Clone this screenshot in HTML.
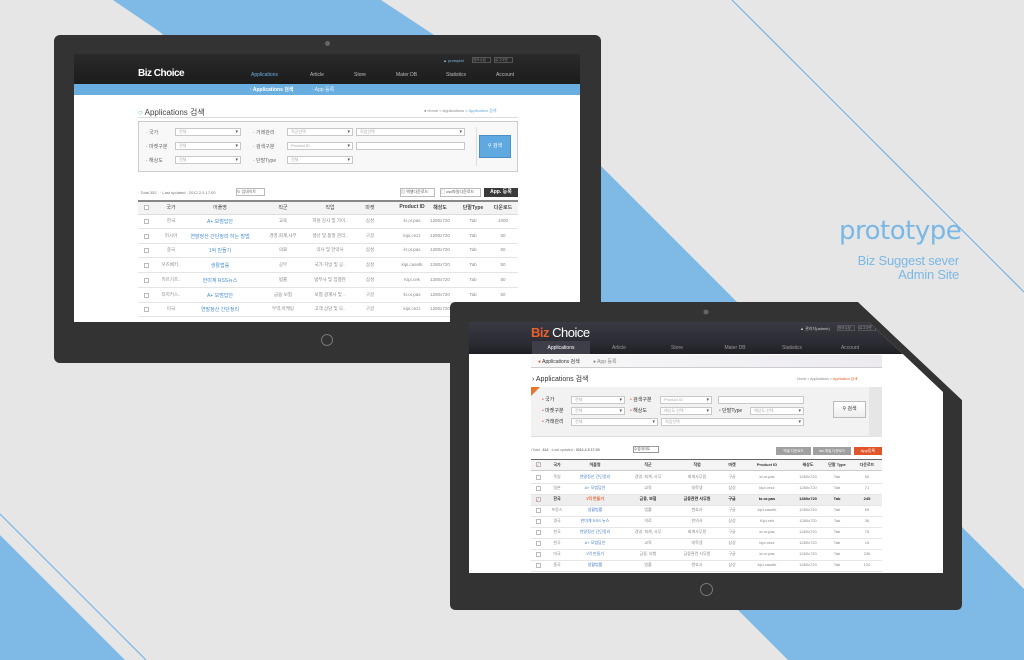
<!DOCTYPE html>
<html><head><meta charset="utf-8">
<style>
*{margin:0;padding:0;box-sizing:border-box}
body{width:1024px;height:660px;overflow:hidden;background:#e6e6e6;position:relative;font-family:"Liberation Sans","Noto Sans CJK KR",sans-serif}
.a{position:absolute;white-space:nowrap}
.t{font-size:5px;color:#666}
.sel{position:absolute;height:8px;border:1px solid #c8c8c8;background:#fff;font-size:4px;color:#aaa;padding-left:3px;line-height:6px}
.sel:after{content:"▾";position:absolute;right:2px;top:0;color:#555;font-size:5px}
.cell{position:absolute;transform:translateX(-50%);white-space:nowrap}
</style></head><body>
<svg class="a" style="left:0;top:0" width="1024" height="660">
<polygon points="113,0 381,0 540,105 1024,589 1024,660 788,660 160,32" fill="#7fb9e5"/>
<line x1="732" y1="0" x2="1024" y2="292" stroke="#6aaee6" stroke-width="1"/>
<polygon points="0,535 0,660 125,660" fill="#7fb9e5"/>
<line x1="0" y1="514" x2="146" y2="660" stroke="#6aaee6" stroke-width="1"/>
</svg>

<div class="a" style="left:839px;top:216px;font-size:26px;color:#7ab8e5;font-family:'DejaVu Sans',sans-serif;letter-spacing:-0.5px">prototype</div>
<div class="a" style="left:800px;top:254px;width:159px;font-size:13px;color:#7ab8e5;text-align:right;line-height:14px;letter-spacing:-0.2px">Biz Suggest sever<br>Admin Site</div>

<!-- left device -->
<div class="a" style="left:54px;top:35px;width:547px;height:328px;background:#333;border-radius:6px"></div>
<div class="a" style="left:325px;top:41px;width:5px;height:5px;border-radius:50%;background:#666"></div>
<div class="a" style="left:321px;top:334px;width:12px;height:12px;border-radius:50%;border:1.5px solid #777"></div>
<div class="a" style="left:74px;top:54px;width:506px;height:268px;background:#fff;overflow:hidden">
 <div class="a" style="left:0;top:0;width:506px;height:30px;background:linear-gradient(#2a2a2a,#1c1c1c)"></div>
 <div class="a t" style="left:369px;top:4px;color:#7ab8e5;font-size:4px">▲ promptal</div>
 <div class="a" style="left:398px;top:3px;width:19px;height:6px;border:1px solid #555;font-size:3.5px;color:#888"> 정보수정</div>
 <div class="a" style="left:420px;top:3px;width:19px;height:6px;border:1px solid #555;font-size:3.5px;color:#888"> 로그아웃</div>
 <div class="a" style="left:64px;top:14px;font-size:10px;font-weight:bold;color:#fff;letter-spacing:-0.5px">Biz Choice</div>
 <div class="a t" style="left:177px;top:18px;color:#6ab0e6">Applications</div>
 <div class="a t" style="left:236px;top:18px;color:#bbb">Article</div>
 <div class="a t" style="left:280px;top:18px;color:#bbb">Store</div>
 <div class="a t" style="left:322px;top:18px;color:#bbb">Mater DB</div>
 <div class="a t" style="left:372px;top:18px;color:#bbb">Statistics</div>
 <div class="a t" style="left:422px;top:18px;color:#bbb">Account</div>
 <div class="a" style="left:0;top:30px;width:506px;height:11px;background:#6aaee0"></div>
 <div class="a t" style="left:176px;top:32px;color:#fff;font-weight:bold">· Applications 검색</div>
 <div class="a t" style="left:238px;top:32px;color:#e6f2fb">· App 등록</div>
 <div class="a" style="left:64px;top:53px;font-size:8px;color:#444"><span style="color:#5fa9e0">○</span> Applications 검색</div>
 <div class="a" style="left:350px;top:54px;font-size:4px;color:#888">● Home &gt; Applications &gt; <span style="color:#5fa9e0">Application 검색</span></div>
 <div class="a" style="left:64px;top:63px;width:380px;height:1px;background:#ddd"></div>
 <div class="a" style="left:64px;top:67px;width:380px;height:51px;border:1px solid #ccc;background:#f8f8f8"></div>
 <div class="a t" style="left:72px;top:75px">· 국가</div>
 <div class="sel" style="left:101px;top:74px;width:66px">전체</div>
 <div class="a t" style="left:179px;top:75px">· 거래관리</div>
 <div class="sel" style="left:213px;top:74px;width:66px">직군선택</div>
 <div class="sel" style="left:282px;top:74px;width:109px">직업선택</div>
 <div class="a t" style="left:72px;top:89px">· 마켓구분</div>
 <div class="sel" style="left:101px;top:88px;width:66px">전체</div>
 <div class="a t" style="left:179px;top:89px">· 검색구분</div>
 <div class="sel" style="left:213px;top:88px;width:66px">Product ID</div>
 <div class="a" style="left:282px;top:88px;width:109px;height:8px;border:1px solid #c8c8c8;background:#fff"></div>
 <div class="a t" style="left:72px;top:103px">· 해상도</div>
 <div class="sel" style="left:101px;top:102px;width:66px">전체</div>
 <div class="a t" style="left:179px;top:103px">· 단말Type</div>
 <div class="sel" style="left:213px;top:102px;width:66px">전체</div>
 <div class="a" style="left:402px;top:73px;width:1px;height:39px;background:#ddd"></div>
 <div class="a" style="left:405px;top:81px;width:32px;height:23px;background:#5fa9e0;border:1px solid #4a90c8;color:#fff;font-size:5px;text-align:center;line-height:21px">⚲ 검색</div>
 <div class="a" style="left:64px;top:136px;font-size:4px;color:#777">· Total 352 &nbsp; · Last updated : 2012.2.5 17:00</div>
 <div class="a" style="left:162px;top:134px;width:29px;height:8px;border:1px solid #bbb;font-size:4px;color:#666;background:#fff"> ↻ 업데이트</div>
 <div class="a" style="left:326px;top:134px;width:35px;height:9px;border:1px solid #bbb;background:#fff;font-size:4px;color:#555"> ▤ 엑셀다운로드</div>
 <div class="a" style="left:366px;top:134px;width:41px;height:9px;border:1px solid #bbb;background:#fff;font-size:4px;color:#555"> ▢ csv파일다운로드</div>
 <div class="a" style="left:410px;top:134px;width:34px;height:9px;background:#3a3a3a;color:#fff;font-size:5px;font-weight:bold;text-align:center;line-height:9px">App. 등록</div>
 <div class="a" style="left:64px;top:146px;width:380px;height:15px;border-top:2px solid #888;background:#f3f3f3;border-bottom:1px solid #ddd"></div>
 <div id="ltab"></div>
</div>

<!-- right device -->
<svg class="a" style="left:0;top:0" width="1024" height="660">
<path d="M456,302 H858 L962,400 V604 Q962,610 956,610 H456 Q450,610 450,604 V308 Q450,302 456,302 Z" fill="#333"/>
<circle cx="706" cy="312" r="2.5" fill="#666"/>
</svg>
<div class="a" style="left:700px;top:583px;width:13px;height:13px;border-radius:50%;border:1.5px solid #777"></div>
<div class="a" style="left:469px;top:322px;width:474px;height:251px;background:#fff;overflow:hidden;clip-path:polygon(0 0,400px 0,474px 70px,474px 251px,0 251px)">
 <div class="a" style="left:0;top:0;width:474px;height:19px;background:linear-gradient(#3a3a44,#2c2c34)"></div>
 <div class="a" style="left:0;top:19px;width:474px;height:13px;background:linear-gradient(#2e2e36,#1e1e24)"></div>
 <div class="a" style="left:62px;top:3px;font-size:13px;color:#fff;letter-spacing:-0.5px"><b style="color:#e8602c">Biz</b> Choice</div>
 <div class="a" style="left:331px;top:4px;font-size:4px;color:#ccc">▲ 관리자(admin)</div>
 <div class="a" style="left:368px;top:3px;width:18px;height:6px;border:1px solid #555;font-size:3.5px;color:#999"> 정보수정</div>
 <div class="a" style="left:389px;top:3px;width:18px;height:6px;border:1px solid #555;font-size:3.5px;color:#999"> 로그아웃</div>
 <div class="a" style="left:63px;top:19px;width:58px;height:13px;background:#3e3e48"></div>
 <div class="cell t" style="left:92px;top:23px;color:#fff">Applications</div>
 <div class="cell t" style="left:150px;top:23px;color:#999">Article</div>
 <div class="cell t" style="left:208px;top:23px;color:#999">Store</div>
 <div class="cell t" style="left:266px;top:23px;color:#999">Mater DB</div>
 <div class="cell t" style="left:323px;top:23px;color:#999">Statistics</div>
 <div class="cell t" style="left:381px;top:23px;color:#999">Account</div>
 <div class="a" style="left:62px;top:33px;width:351px;height:13px;background:linear-gradient(90deg,#f8f8f8,#eceaf0);border-bottom:1px solid #ccc"></div>
 <div class="a t" style="left:69px;top:36px;color:#333"><span style="color:#e8602c">●</span> Applications 검색</div>
 <div class="a t" style="left:124px;top:36px;color:#888"><span>●</span> App 등록</div>
 <div class="a" style="left:63px;top:52px;font-size:7px;color:#333">› Applications 검색</div>
 <div class="a" style="left:328px;top:55px;font-size:3.5px;color:#888">Home &gt; Applications &gt; <span style="color:#e8602c">Application 검색</span></div>
 <div class="a" style="left:62px;top:65px;width:351px;height:50px;background:#f2f2f2;border-bottom:1px solid #ddd"></div>
 <div class="a" style="left:62px;top:65px;width:0;height:0;border-top:9px solid #e8762c;border-right:9px solid transparent"></div>
 <div class="a" style="left:400px;top:65px;width:13px;height:50px;background:#e6e6e6"></div>
 <div class="a t" style="left:73px;top:74px;color:#333"><span style="color:#e8602c">•</span> 국가</div>
 <div class="sel" style="left:102px;top:74px;width:54px">전체</div>
 <div class="a t" style="left:161px;top:74px;color:#333"><span style="color:#e8602c">•</span> 검색구분</div>
 <div class="sel" style="left:191px;top:74px;width:52px">Product ID</div>
 <div class="a" style="left:249px;top:74px;width:86px;height:8px;border:1px solid #c8c8c8;background:#fff"></div>
 <div class="a t" style="left:73px;top:85px;color:#333"><span style="color:#e8602c">•</span> 마켓구분</div>
 <div class="sel" style="left:102px;top:85px;width:54px">전체</div>
 <div class="a t" style="left:161px;top:85px;color:#333"><span style="color:#e8602c">•</span> 해상도</div>
 <div class="sel" style="left:191px;top:85px;width:52px">해상도 선택</div>
 <div class="a t" style="left:250px;top:85px;color:#333"><span style="color:#e8602c">•</span> 단말Type</div>
 <div class="sel" style="left:281px;top:85px;width:54px">해상도 선택</div>
 <div class="a t" style="left:73px;top:96px;color:#333"><span style="color:#e8602c">•</span> 거래관리</div>
 <div class="sel" style="left:102px;top:96px;width:87px">전체</div>
 <div class="sel" style="left:192px;top:96px;width:143px">직업선택</div>
 <div class="a" style="left:364px;top:79px;width:33px;height:17px;background:linear-gradient(#fff,#eee);border:1px solid #bbb;font-size:5px;color:#333;text-align:center;line-height:15px">⚲ 검색</div>
 <div class="a" style="left:62px;top:126px;font-size:3.5px;color:#777"><span style="color:#e8602c">•</span>Total : <b>314</b> &nbsp; <span style="color:#e8602c">•</span>Last updated : <b>2012-2-5 17:00</b></div>
 <div class="a" style="left:164px;top:124px;width:26px;height:7px;border:1px solid #999;font-size:3.5px;color:#555;background:#fff"> 수업데이트</div>
 <div class="a" style="left:307px;top:125px;width:35px;height:8px;background:#a0a0a0;font-size:3.5px;color:#fff;text-align:center;line-height:8px">엑셀 다운로드</div>
 <div class="a" style="left:344px;top:125px;width:38px;height:8px;background:#a0a0a0;font-size:3.5px;color:#fff;text-align:center;line-height:8px">csv 파일 다운로드</div>
 <div class="a" style="left:385px;top:125px;width:28px;height:8px;background:#e0562a;font-size:4px;color:#fff;text-align:center;line-height:8px">App등록</div>
 <div class="a" style="left:62px;top:137px;width:351px;height:12px;border-top:1px solid #666;background:#f4f4f4;border-bottom:1px solid #ccc"></div>
 <div class="a" style="left:62px;top:173px;width:351px;height:11px;background:#eeeeee"></div>
 <div id="rtab"></div>
</div>
<svg class="a" style="left:0;top:0" width="1024" height="660">
<polygon points="858,302 962,302 962,400" fill="#e6e6e6"/>
</svg>

<script>
var lHead=["","국가","어플명","직군","직업","마켓","Product ID","해상도","단말Type","다운로드"];
var lCols=[72,97,146,209,256,296,338,366,399,429];
var lCountry=["한국","러시아","중국","우즈베키..","키르기즈..","타지키스..","미국"];
var lApp=["A+ 모범답안","연말정산 간단정리 하는 방법","1억 만들기","생활법률","한미계 RSS뉴스","A+ 모범답안","연말정산 간단정리"];
var lGroup=["교육","경영,회계,사무","의료","공무","법률","금융·보험","무역,마케팅"];
var lJob=["학원 강사 및 가이..","생산 및 품질 관리..","약사 및 한약사","국가·지방 및 공..","법무사 및 집행관","보험 광계사 및 ..","고객 상담 및 모.."];
var lMarket=["삼성","구글","삼성","삼성","삼성","구글","구글"];
var lPid=["kr.or.pas","kipi.cezz","kr.or.pas","kipi.casetk","Kipi.cek","kr.or.pas","kipi.cezz"];
var lDown=["1000","50","50","50","50","50","50"];
var rHead=["","국가","어플명","직군","직업","마켓","Product ID","해상도","단말 Type","다운로드"];
var rCols=[69,88,126,179,228,263,298,339,368,398];
var rCountry=["독일","일본","한국","프랑스","영국","한국","한국","미국","중국"];
var rApp=["연말정산 간단정리","A+ 모범답안","1억 만들기","생활법률","한미계 RSS 뉴스","연말정산 간단정리","A+ 모범답안","1억 만들기","생활법률"];
var rGroup=["경영, 회계, 사무","교육","금융, 보험","법률","의료","경영, 회계, 사무","교육","금융, 보험","법률"];
var rJob=["회계사무원","대학생","금융관련 사무원","변호사","한의사","회계사무원","대학생","금융관련 사무원","변호사"];
var rMarket=["구글","삼성","구글","구글","삼성","구글","삼성","구글","삼성"];
var rPid=["kr.or.pas","kipi.cezz","kr.or.pas","kipi.casetk","Kipi.cek","kr.or.pas","kipi.cezz","kr.or.pas","kipi.casetk"];
var rDown=["50","71","245","69","36","75","15","236","120"];

function put(parent,x,y,txt,fs,color,bold){
  var d=document.createElement('div');
  d.className='cell';
  d.style.left=x+'px';d.style.top=y+'px';d.style.fontSize=fs+'px';d.style.color=color;
  if(bold)d.style.fontWeight='bold';
  d.textContent=txt;
  parent.appendChild(d);
  return d;
}
function box(parent,x,y,s,checked){
  var b=document.createElement('div');
  b.className='a';
  b.style.cssText='left:'+(x-s/2)+'px;top:'+y+'px;width:'+s+'px;height:'+s+'px;border:1px solid #bbb;background:#fff;font-size:'+(s-1)+'px;line-height:'+(s-2)+'px;color:#e8602c;text-align:center';
  if(checked)b.textContent='✓';
  
  
  parent.appendChild(b);
}
var L=document.getElementById('ltab');
box(L,lCols[0],151,5,false);
for(var i=1;i<lHead.length;i++){
  var h=put(L,lCols[i],150,lHead[i],5,'#444',i>=6);
  
  
}
for(var r=0;r<lCountry.length;r++){
  var y=164+r*14.7;
  var line=document.createElement('div');
  line.className='a';
  line.style.cssText='left:64px;top:'+(y+10)+'px;width:380px;height:1px;background:#e4e4e4';
  
  
  L.appendChild(line);
  box(L,lCols[0],y+1,5,false);
  var vals=[lCountry[r],lApp[r],lGroup[r],lJob[r],lMarket[r],lPid[r],"1280x720","Tab",lDown[r]];
  for(var c=0;c<vals.length;c++){
    var e=put(L,lCols[c+1],y,vals[c],c==1?5:4.5,c==1?'#4a8fd0':'#888');
    
    
  }
}
var R=document.getElementById('rtab');
box(R,rCols[0],140,5,true);
for(var i=1;i<rHead.length;i++){
  var h=put(R,rCols[i],140,rHead[i],4,'#333',true);
  
  
}
for(var r=0;r<rCountry.length;r++){
  var y=152+r*11;
  var sel=(r==2);
  var line=document.createElement('div');
  line.className='a';
  line.style.cssText='left:62px;top:'+(y+9)+'px;width:351px;height:1px;background:#e6e6e6';
  
  
  R.appendChild(line);
  box(R,rCols[0],y+1,5,sel);
  var vals=[rCountry[r],rApp[r],rGroup[r],rJob[r],rMarket[r],rPid[r],"1280x720","Tab",rDown[r]];
  for(var c=0;c<vals.length;c++){
    var col=c==1?(sel?'#e8602c':'#4a7fc8'):(sel?'#222':'#888');
    var e=put(R,rCols[c+1],y,vals[c],4,col,sel);
    
    
  }
}
</script>
</body></html>
